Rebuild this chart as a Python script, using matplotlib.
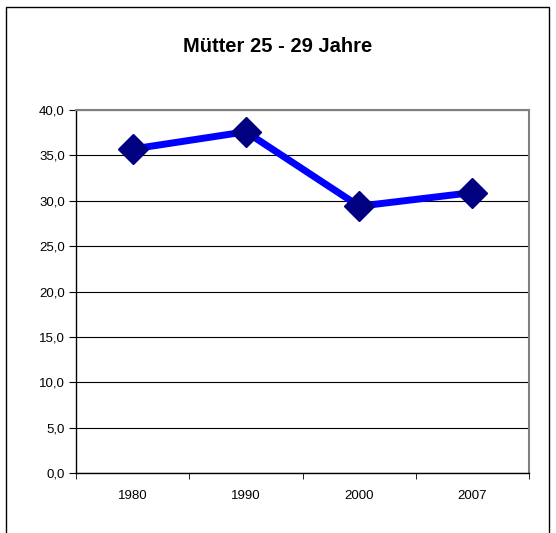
import numpy as np
import matplotlib
matplotlib.use('Agg')
import matplotlib.pyplot as plt
from matplotlib.patches import Rectangle
from matplotlib.ticker import FuncFormatter

years = ['1980', '1990', '2000', '2007']
values = [35.7, 37.6, 29.4, 30.9]

plt.rcParams['font.family'] = ['Liberation Sans', 'DejaVu Sans']

W, H = 556, 533
fig = plt.figure(figsize=(W / 100, H / 100), dpi=100)

# outer chart frame (bottom edge is cut off in the original)
fig.patches.append(Rectangle((6 / W, -0.05), (549 - 6) / W, 1 - 7 / H + 0.05,
                             transform=fig.transFigure, fill=False,
                             edgecolor='black', lw=1.0))

ax = fig.add_axes([76 / W, 1 - 473 / H, (529 - 76) / W, (473 - 110) / H])
x = np.arange(len(years))
ax.plot(x, values, color='#0000ff', lw=5, zorder=3)
ax.plot(x, values, ls='none', marker='D', ms=15.5, color='#000080',
        mec='#000080', zorder=4)

ax.set_xlim(-0.5, len(years) - 0.5)
ax.set_ylim(0, 40)
ax.set_yticks(np.arange(0, 41, 5))
ax.yaxis.set_major_formatter(FuncFormatter(lambda v, p: f'{v:.1f}'.replace('.', ',')))
ax.yaxis.grid(True, color='black', lw=0.8)
ax.set_axisbelow(True)

ax.set_xticks(x)
ax.set_xticklabels(years)
ax.set_xticks(np.arange(-0.5, len(years), 1), minor=True)
ax.tick_params(axis='x', which='major', length=0, pad=12, labelsize=9.5)
ax.tick_params(axis='x', which='minor', length=4, direction='out')
ax.tick_params(axis='y', length=5, direction='out', labelsize=9.5, pad=3)

for s in ['top', 'right']:
    ax.spines[s].set_color('#808080')
    ax.spines[s].set_linewidth(1.5)
for s in ['left', 'bottom']:
    ax.spines[s].set_color('black')
    ax.spines[s].set_linewidth(1.0)

fig.text(0.5, 1 - 47 / H, 'Mütter 25 - 29 Jahre', ha='center', va='center',
         fontsize=14.5, fontweight='bold')

fig.savefig('out.png', dpi=100)
